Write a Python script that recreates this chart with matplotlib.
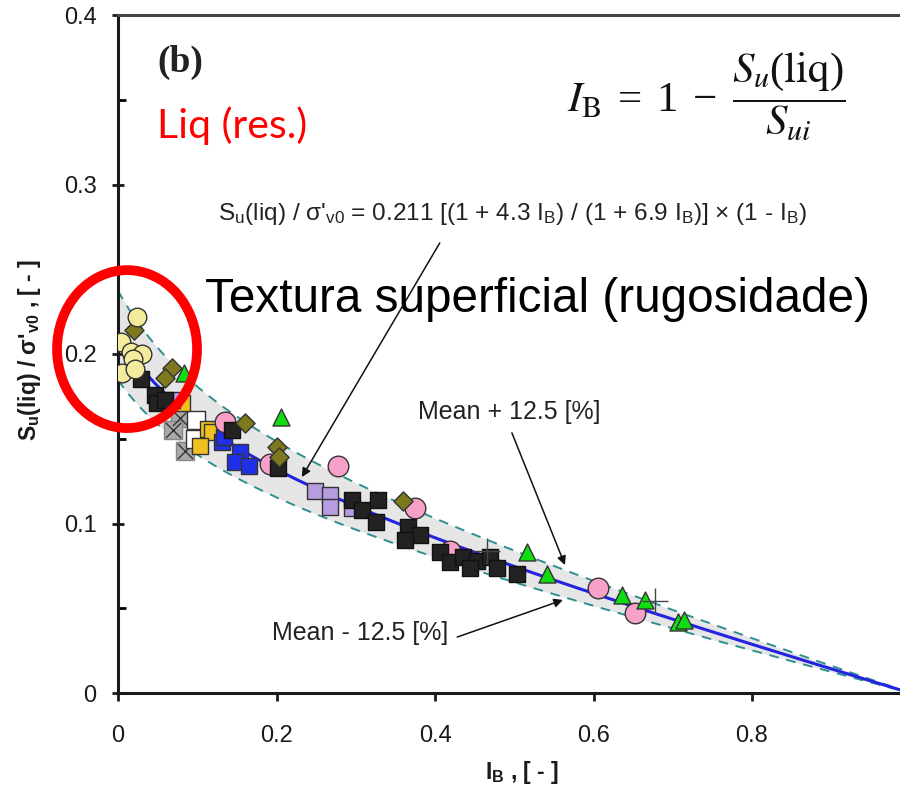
import numpy as np
import matplotlib
matplotlib.use('Agg')
import matplotlib.pyplot as plt
from matplotlib.patches import Ellipse

plt.rcParams['font.family'] = ['Liberation Sans', 'DejaVu Sans']
plt.rcParams['mathtext.default'] = 'regular'

# relation printed on the chart: Su(liq)/s'v0 = a [(1 + b IB)/(1 + c IB)] (1 - IB)
coef_a = 0.211
coef_b = 4.3
coef_c = 6.9
band_pct = 12.5

# data points (IB, Su(liq)/s'v0)
yellow_x = [0.024, 0.004, 0.016, 0.030, 0.019, 0.005, 0.022]
yellow_y = [0.222, 0.207, 0.201, 0.200, 0.197, 0.189, 0.191]

olive_x = [0.020, 0.068, 0.059, 0.160, 0.201, 0.203, 0.360]
olive_y = [0.214, 0.192, 0.186, 0.159, 0.145, 0.139, 0.113]

green_x = [0.083, 0.206, 0.516, 0.541, 0.636, 0.665, 0.707, 0.714]
green_y = [0.189, 0.163, 0.083, 0.070, 0.058, 0.055, 0.042, 0.043]

pink_x = [0.278, 0.375, 0.606, 0.652, 0.135, 0.192, 0.419]
pink_y = [0.134, 0.109, 0.062, 0.047, 0.160, 0.135, 0.084]

black_x = [0.029, 0.047, 0.049, 0.059, 0.144, 0.202, 0.295, 0.308, 0.328,
           0.326, 0.366, 0.381, 0.362, 0.406, 0.419, 0.435, 0.453, 0.469,
           0.478, 0.444, 0.504]
black_y = [0.185, 0.176, 0.171, 0.173, 0.155, 0.133, 0.114, 0.108, 0.114,
           0.101, 0.098, 0.093, 0.090, 0.083, 0.077, 0.080, 0.078, 0.080,
           0.074, 0.074, 0.070]

blue_x = [0.131, 0.154, 0.148, 0.165, 0.134]
blue_y = [0.148, 0.142, 0.136, 0.134, 0.151]

lavender_x = [0.249, 0.268, 0.268, 0.295, 0.068]
lavender_y = [0.119, 0.117, 0.110, 0.109, 0.173]

gold_x = [0.081, 0.114, 0.119, 0.104]
gold_y = [0.171, 0.156, 0.154, 0.146]

white_x = [0.098, 0.097]
white_y = [0.161, 0.150]

grey_x = [0.078, 0.069, 0.085]
grey_y = [0.162, 0.155, 0.143]

plus_x = [0.466, 0.678]
plus_y = [0.084, 0.054]

ib = np.linspace(0, 1, 300)
mean = coef_a * (1 + coef_b * ib) / (1 + coef_c * ib) * (1 - ib)
upper = mean * (1 + band_pct / 100)
lower = mean * (1 - band_pct / 100)

fig = plt.figure(figsize=(9, 7.9), dpi=100)
ax = fig.add_axes([118 / 900, 97 / 790, 792.5 / 900, 678 / 790])

ax.fill_between(ib, lower, upper, color='#e6e6e6', lw=0, zorder=1)
ax.plot(ib, upper, color='#2f8f8f', lw=1.4, ls=(0, (5, 4)), zorder=2)
ax.plot(ib, lower, color='#2f8f8f', lw=1.4, ls=(0, (5, 4)), zorder=2)
ax.plot(ib, mean, color='#2323e0', lw=2.2, zorder=2)

ec = '#333333'
ax.scatter(grey_x, grey_y, marker='s', s=170, c='#a8a8a8', edgecolors='#888888', lw=1, zorder=3)
ax.scatter(grey_x, grey_y, marker='x', s=120, c='#333333', lw=1, zorder=3)
ax.scatter(white_x, white_y, marker='s', s=150, c='white', edgecolors=ec, lw=1, zorder=3)
ax.scatter(gold_x, gold_y, marker='s', s=125, c='#f0c020', edgecolors=ec, lw=1, zorder=3)
ax.scatter(lavender_x, lavender_y, marker='s', s=145, c='#b89ce0', edgecolors=ec, lw=1, zorder=3)
ax.scatter(blue_x, blue_y, marker='s', s=145, c='#2030e8', edgecolors=ec, lw=1, zorder=3)
ax.scatter(pink_x, pink_y, marker='o', s=220, c='#f7a0c8', edgecolors=ec, lw=1, zorder=3)
ax.scatter(black_x, black_y, marker='s', s=120, c='#222222', edgecolors='#111111', lw=1, zorder=3)
ax.scatter(olive_x, olive_y, marker='D', s=95, c='#7d7a1e', edgecolors=ec, lw=1, zorder=3)
ax.scatter(yellow_x, yellow_y, marker='o', s=180, c='#f2ec9c', edgecolors=ec, lw=1, zorder=3)
ax.scatter(green_x, green_y, marker='^', s=150, c='#10dd10', edgecolors=ec, lw=1, zorder=3)
ax.scatter(plus_x, plus_y, marker='+', s=330, c='#444444', lw=1, zorder=3)

ax.set_xlim(0, 1)
ax.set_ylim(0, 0.4)
ax.set_xticks([0, 0.2, 0.4, 0.6, 0.8])
ax.set_xticklabels(['0', '0.2', '0.4', '0.6', '0.8'])
ax.set_yticks([0, 0.1, 0.2, 0.3, 0.4])
ax.set_yticklabels(['0', '0.1', '0.2', '0.3', '0.4'])
ax.set_yticks([0.05, 0.15, 0.25, 0.35], minor=True)
ax.tick_params(axis='y', which='major', direction='inout', length=9, width=2,
               labelsize=17, pad=11, colors='#1a1a1a')
ax.tick_params(axis='y', which='minor', direction='in', length=6, width=2)
ax.tick_params(axis='x', which='major', direction='out', length=6, width=2,
               labelsize=17, pad=17, colors='#1a1a1a')
for side in ['left', 'bottom', 'top']:
    ax.spines[side].set_linewidth(2.2)
    ax.spines[side].set_color('#1a1a1a')
ax.spines['top'].set_color('#444444')
ax.spines['right'].set_visible(False)

fig.text(522 / 900, 1 - 773 / 790, r'I$_\mathregular{B}$ , [ - ]', ha='center', va='center',
         fontsize=16.5, fontweight='bold', color='#1a1a1a')
fig.text(30 / 900, 1 - 350 / 790, r"S$_\mathregular{u}$(liq) / σ'$_\mathregular{v0}$ , [ - ]",
         rotation=90, ha='center', va='center', fontsize=16.5, fontweight='bold', color='#1a1a1a')

fig.text(157 / 900, 1 - 72 / 790, '(b)', family='Liberation Serif', fontweight='bold',
         fontsize=27, color='#222222', va='baseline')
fig.text(157 / 900, 1 - 138 / 790, 'Liq (res.)', family='Lato', fontsize=29.5,
         color='#ff0000', va='baseline')
fig.text(706 / 900, 1 - 97 / 790,
         r'$\mathit{I}_\mathrm{B} \;=\; 1 \;-\; '
         r'\dfrac{\mathit{S}_\mathit{u}(\mathrm{liq})}{\mathit{S}_{\mathit{ui}}}$',
         math_fontfamily='stix', family='Liberation Serif', fontsize=31,
         ha='center', va='center', color='#111111')
fig.text(218 / 900, 1 - 220 / 790,
         r"S$_\mathregular{u}$(liq) / σ'$_\mathregular{v0}$ = 0.211 [(1 + 4.3 I$_\mathregular{B}$) / "
         r"(1 + 6.9 I$_\mathregular{B}$)] × (1 - I$_\mathregular{B}$)",
         fontsize=17.6, va='baseline', color='#222222')
fig.text(205 / 900, 1 - 312 / 790, 'Textura superficial (rugosidade)', fontsize=34.3,
         va='baseline', color='black')
fig.text(418 / 900, 1 - 419 / 790, 'Mean + 12.5 [%]', fontsize=18, va='baseline', color='#222222')
fig.text(272 / 900, 1 - 640 / 790, 'Mean - 12.5 [%]', fontsize=18, va='baseline', color='#222222')

arrow = dict(arrowstyle='-|>', color='#111111', lw=1.1, mutation_scale=13, shrinkA=0, shrinkB=0)
ax.annotate('', xy=(0.232, 0.1274), xytext=(0.406, 0.2655), arrowprops=arrow)
ax.annotate('', xy=(0.564, 0.0755), xytext=(0.497, 0.1535), arrowprops=arrow)
ax.annotate('', xy=(0.5615, 0.0549), xytext=(0.428, 0.033), arrowprops=arrow)

ax.add_patch(Ellipse((0.0114, 0.2029), 0.1767, 0.0932, fill=False, edgecolor='#ff0000',
                     lw=7, clip_on=False, zorder=5))

fig.savefig('out.png', dpi=100)
